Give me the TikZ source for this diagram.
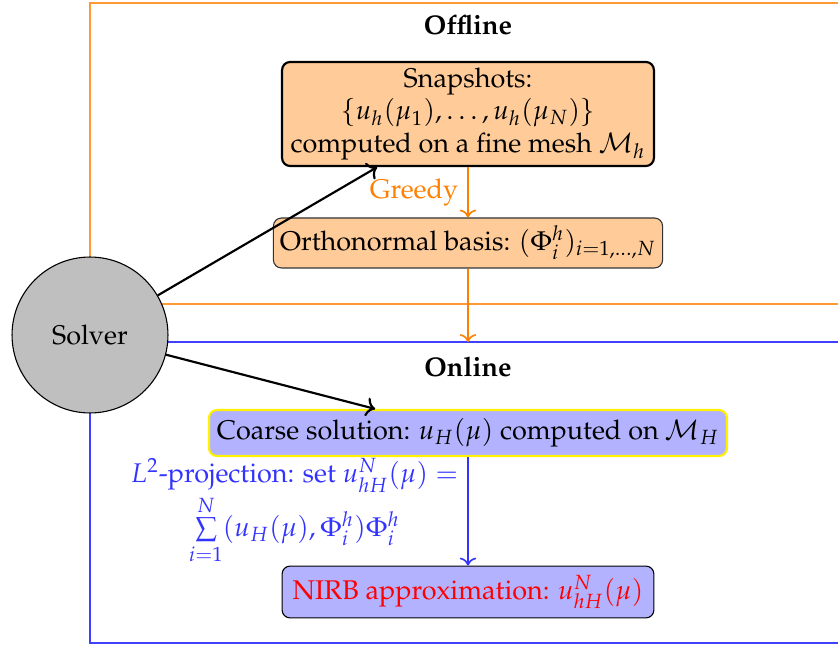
\documentclass[tikz,border=0pt]{standalone}
\usepackage[T1]{fontenc}
\usepackage{amsmath}
\usepackage{amssymb}
\usepackage{mathpazo}
\usepackage{tikz}
\usetikzlibrary{positioning,arrows.meta}
\tikzset{
    stagebox/.style={rectangle, rounded corners=3pt, align=center, inner sep=2pt},
    orangebox/.style={stagebox, fill=orange!40},
    bluebox/.style={stagebox, fill=blue!30}
}

\begin{document}
\begin{tikzpicture}[
        x=0.37pt, y=-0.37pt,
        % --- STYLES ---
        stageframe/.style={thin},
        solverball/.style={
            circle,
            draw=black,
            fill=gray!50,
            minimum size=57.7pt,
            inner sep=0pt
        },
        % arrows
        solverflow/.style={->, thick, black},
        offlineflow/.style={->, semithick, orange},
        onlineflow/.style={->, semithick, blue!80}
    ]
        \useasboundingbox (0,0) rectangle (838,647);

        % --- FRAMES ---
        \draw[stageframe, orange!80] (90,3) rectangle (900,304);
        \draw[stageframe, blue!75] (90,342) rectangle (900,643);
        \node[font=\bfseries] (offline) at (468,25) {Offline};
        \node[font=\bfseries] (online) at (468,367) {Online};
        \coordinate (onlinetop) at (468,342);

        % --- OFFLINE ---
        \node[orangebox, draw=black, thick, minimum width=137.6pt, minimum height=38.5pt] (snapshots) at (468,114)
            {Snapshots:\\ $\{u_h(\mu_1),\dots,u_h(\mu_N)\}$\\ computed on a fine mesh $\mathcal{M}_h$};
        \node[orangebox, draw=black!80, minimum width=144pt, minimum height=18.5pt] (basis) at (468,243)
            {Orthonormal basis: $(\Phi_i^h)_{i=1,\dots,N}$};

        % --- ONLINE ---
        \node[bluebox, draw=yellow, thick, minimum width=191.7pt, minimum height=17pt] (coarse) at (468,433)
            {Coarse solution: $u_H(\mu)$ computed on $\mathcal{M}_H$};
        \node[bluebox, draw=black, minimum width=137.6pt, minimum height=19.2pt, text=red] (nirb) at (468,592)
            {NIRB approximation: $u_{hH}^N(\mu)$};

        % --- SOLVER ---
        \node[solverball] (solver) at (90,335) {Solver};

        % --- CONNECTORS ---
        \draw[offlineflow] (snapshots) -- node[left, text=orange] {Greedy} (basis);
        \draw[offlineflow] (basis) -- (onlinetop);
        \draw[onlineflow] (coarse) -- node[left, text=blue!80, align=center] (projection)
            {$L^2$-projection: set $u_{hH}^N(\mu) =$\\ $\sum\limits_{i=1}^N (u_H(\mu),\Phi_i^h)\Phi_i^h$} (nirb);
        \draw[solverflow] (solver) -- (snapshots);
        \draw[solverflow] (solver) -- (coarse);
\end{tikzpicture}
\end{document}
